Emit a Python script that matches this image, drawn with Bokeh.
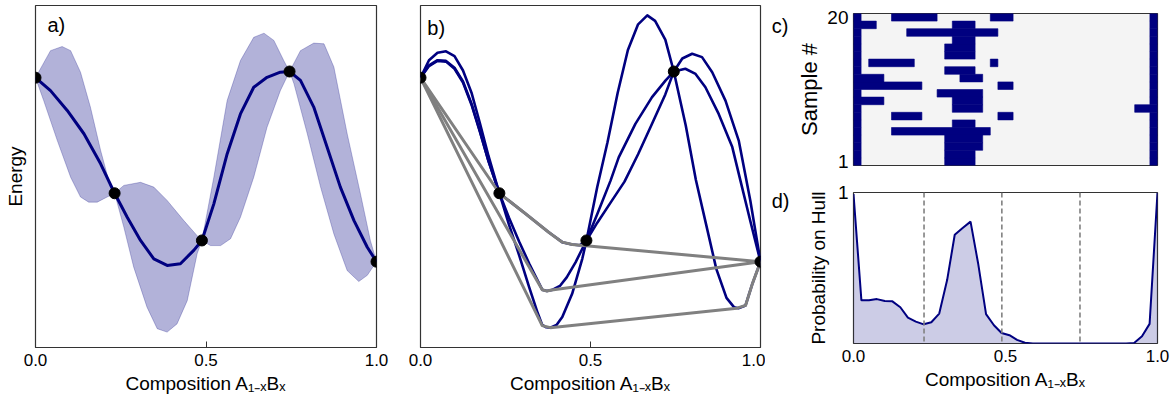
from bokeh.plotting import figure
from bokeh.layouts import row, column
from bokeh.models import Range1d, FixedTicker, Label, Span, LinearAxis
from bokeh.embed import file_html
from bokeh.resources import INLINE

FONT = "Liberation Sans"
NAVY = "#000080"
GREY = "#808080"
XLABEL = "Composition A\u2081\u208b\u2093B\u2093"

# ---------------- data ----------------
# observed (computed) compositions / energies
obs_x = [0.0, 0.232, 0.488, 0.745, 1.0]
obs_e = [0.789, 0.451, 0.313, 0.807, 0.251]

# panel a: GP mean and confidence band
mean_x = [0, 0.044, 0.093, 0.142, 0.191, 0.232, 0.269, 0.308, 0.347, 0.386, 0.425, 0.464, 0.488,
          0.523, 0.562, 0.601, 0.640, 0.679, 0.718, 0.745, 0.777, 0.816, 0.855, 0.894, 0.934, 0.973, 1.0]
mean_e = [0.789, 0.751, 0.693, 0.625, 0.537, 0.451, 0.381, 0.313, 0.259, 0.240, 0.245, 0.284, 0.313,
          0.420, 0.566, 0.683, 0.761, 0.790, 0.805, 0.807, 0.781, 0.703, 0.586, 0.469, 0.371, 0.293, 0.251]

upper_x = [0, 0.044, 0.078, 0.103, 0.132, 0.161, 0.191, 0.220, 0.232, 0.259, 0.308, 0.347, 0.386, 0.435,
           0.474, 0.488, 0.523, 0.562, 0.601, 0.640, 0.670, 0.699, 0.728, 0.745, 0.777, 0.816, 0.846,
           0.875, 0.914, 0.953, 0.982, 1.0]
upper_e = [0.789, 0.868, 0.880, 0.868, 0.805, 0.703, 0.576, 0.469, 0.451, 0.474, 0.483, 0.469, 0.430, 0.371,
           0.327, 0.313, 0.498, 0.722, 0.839, 0.907, 0.919, 0.898, 0.839, 0.807, 0.868, 0.890, 0.888,
           0.820, 0.625, 0.449, 0.313, 0.251]
lower_x = [0, 0.024, 0.064, 0.103, 0.132, 0.156, 0.181, 0.210, 0.232, 0.259, 0.288, 0.327, 0.357, 0.386,
           0.415, 0.445, 0.474, 0.488, 0.513, 0.543, 0.572, 0.601, 0.640, 0.679, 0.718, 0.745, 0.758,
           0.797, 0.836, 0.875, 0.914, 0.948, 0.973, 1.0]
lower_e = [0.789, 0.722, 0.605, 0.498, 0.440, 0.425, 0.425, 0.440, 0.451, 0.352, 0.235, 0.118, 0.055, 0.045,
           0.069, 0.137, 0.274, 0.313, 0.298, 0.298, 0.318, 0.381, 0.498, 0.644, 0.751, 0.807, 0.771,
           0.625, 0.469, 0.332, 0.225, 0.193, 0.211, 0.251]

# panel b: three GP samples and their lower convex hulls
sample1_x = [0, 0.025, 0.05, 0.075, 0.10, 0.125, 0.15, 0.175, 0.20, 0.232, 0.26, 0.29, 0.32, 0.345, 0.358,
             0.37, 0.382, 0.40, 0.417, 0.446, 0.476, 0.488, 0.52, 0.55, 0.58, 0.61, 0.64, 0.667, 0.69,
             0.72, 0.745, 0.78, 0.81, 0.84, 0.87, 0.90, 0.922, 0.935, 0.956, 0.976, 1.0]
sample1_e = [0.789, 0.84, 0.862, 0.866, 0.852, 0.81, 0.745, 0.655, 0.56, 0.451, 0.36, 0.27, 0.175, 0.1, 0.066,
             0.059, 0.058, 0.066, 0.089, 0.157, 0.26, 0.313, 0.47, 0.6, 0.745, 0.87, 0.945, 0.971, 0.955,
             0.9, 0.807, 0.65, 0.49, 0.36, 0.23, 0.145, 0.118, 0.115, 0.123, 0.186, 0.251]
sample2_x = [0, 0.025, 0.05, 0.075, 0.10, 0.125, 0.15, 0.175, 0.20, 0.232, 0.26, 0.29, 0.32, 0.345, 0.358,
             0.372, 0.386, 0.41, 0.43, 0.456, 0.488, 0.52, 0.56, 0.60, 0.64, 0.68, 0.72, 0.745, 0.77, 0.799,
             0.828, 0.858, 0.897, 0.936, 0.97, 1.0]
sample2_e = [0.789, 0.823, 0.838, 0.836, 0.815, 0.775, 0.71, 0.63, 0.545, 0.451, 0.38, 0.31, 0.245, 0.195,
             0.169, 0.165, 0.168, 0.18, 0.205, 0.249, 0.313, 0.365, 0.425, 0.485, 0.565, 0.652, 0.74, 0.807,
             0.845, 0.859, 0.849, 0.805, 0.722, 0.605, 0.43, 0.251]
sample3_x = [0, 0.025, 0.05, 0.075, 0.10, 0.125, 0.15, 0.175, 0.20, 0.232, 0.309, 0.377, 0.417, 0.446,
             0.468, 0.488, 0.52, 0.559, 0.583, 0.632, 0.681, 0.721, 0.745, 0.779, 0.809, 0.838, 0.877,
             0.917, 0.941, 0.97, 1.0]
sample3_e = [0.789, 0.825, 0.84, 0.838, 0.818, 0.778, 0.713, 0.632, 0.545, 0.451, 0.391, 0.337, 0.308,
             0.301, 0.299, 0.313, 0.39, 0.488, 0.556, 0.654, 0.732, 0.781, 0.807, 0.815, 0.800, 0.761,
             0.683, 0.586, 0.488, 0.37, 0.251]

hull1_x = [0, 0.232, 0.309, 0.377, 0.417, 0.446, 1.0]
hull1_e = [0.789, 0.451, 0.391, 0.337, 0.308, 0.301, 0.251]
hull2_x = [0, 0.358, 0.372, 0.386, 1.0]
hull2_e = [0.789, 0.169, 0.165, 0.168, 0.251]
hull3_x = [0, 0.358, 0.382, 0.931, 0.956, 0.976, 1.0]
hull3_e = [0.789, 0.064, 0.058, 0.115, 0.123, 0.186, 0.251]

# panel c: which compositions (40 bins) are on the hull for each of 20 samples
n_bins = 40
sample_runs = [
    [(0, 0), (12, 15), (39, 39)],            # 1
    [(0, 0), (12, 15), (39, 39)],            # 2
    [(0, 0), (12, 16), (39, 39)],            # 3
    [(0, 0), (12, 16), (39, 39)],            # 4
    [(0, 0), (5, 17), (39, 39)],             # 5
    [(0, 0), (13, 15), (39, 39)],            # 6
    [(0, 0), (5, 8), (19, 20), (39, 39)],    # 7
    [(0, 0), (13, 16), (37, 39)],            # 8
    [(0, 3), (13, 16), (39, 39)],            # 9
    [(0, 0), (11, 16), (39, 39)],            # 10
    [(0, 8), (19, 20), (39, 39)],            # 11
    [(0, 3), (14, 16), (39, 39)],            # 12
    [(0, 0), (12, 15), (39, 39)],            # 13
    [(0, 0), (2, 7), (18, 18), (39, 39)],    # 14
    [(0, 0), (12, 15), (39, 39)],            # 15
    [(0, 0), (12, 15), (39, 39)],            # 16
    [(0, 0), (13, 15), (39, 39)],            # 17
    [(0, 0), (7, 18), (39, 39)],             # 18
    [(0, 2), (13, 15), (39, 39)],            # 19
    [(0, 0), (5, 10), (18, 20), (39, 39)],   # 20
]

# panel d: probability on hull
prob_x = [0.0, 0.026, 0.051, 0.077, 0.103, 0.128, 0.154, 0.179, 0.205, 0.231, 0.256, 0.282, 0.308,
          0.333, 0.359, 0.385, 0.41, 0.436, 0.462, 0.487, 0.513, 0.538, 0.564, 0.59, 0.615, 0.641,
          0.667, 0.692, 0.718, 0.744, 0.769, 0.795, 0.821, 0.846, 0.872, 0.897, 0.923, 0.949, 0.974, 1.0]
prob_p = [0.99, 0.286, 0.286, 0.294, 0.281, 0.279, 0.24, 0.171, 0.145, 0.127, 0.141, 0.198, 0.42,
          0.72, 0.765, 0.807, 0.53, 0.195, 0.121, 0.07, 0.055, 0.024, 0.005, 0.0, 0.0, 0.0,
          0.0, 0.0, 0.0, 0.0, 0.0, 0.0, 0.0, 0.0, 0.0, 0.0, 0.004, 0.048, 0.13, 1.0]


# ---------------- helpers ----------------
def style_axis(ax):
    ax.axis_line_color = None
    ax.major_tick_line_color = None
    ax.minor_tick_line_color = None
    ax.major_tick_out = 0
    ax.major_tick_in = 0
    ax.major_label_text_font = FONT
    ax.major_label_text_color = "black"
    ax.axis_label_text_font = FONT
    ax.axis_label_text_font_style = "normal"
    ax.axis_label_text_color = "black"


def base(p):
    p.outline_line_color = "#333333"
    p.outline_line_width = 1.2
    p.outline_line_alpha = 1.0
    p.xgrid.visible = False
    p.ygrid.visible = False
    p.background_fill_color = "white"
    p.border_fill_color = "white"
    for ax in p.axis:
        style_axis(ax)


def comp_xaxis(p):
    ax = p.xaxis[0]
    ax.ticker = FixedTicker(ticks=[0, 0.5, 1])
    ax.major_label_overrides = {0: "0.0", 0.5: "0.5", 1: "1.0"}
    ax.major_label_text_font_size = "17px"
    ax.major_label_standoff = 6
    ax.axis_label = XLABEL
    ax.axis_label_text_font_size = "19px"
    ax.axis_label_standoff = 4


def panel_label(p, text, x, y):
    p.add_layout(Label(x=x, y=y, text=text, text_font=FONT, text_font_size="20px",
                       text_baseline="middle", text_align="left", text_color="black"))


def outer_panel_label(p, text, y, standoff):
    # panel letter drawn as the single tick label of an extra, invisible left axis
    ax = LinearAxis(ticker=FixedTicker(ticks=[y]), major_label_overrides={y: text})
    style_axis(ax)
    ax.major_label_text_font_size = "20px"
    ax.major_label_standoff = standoff
    p.add_layout(ax, "left")


# ---------------- panel a ----------------
pa = figure(frame_width=341, frame_height=342, x_range=Range1d(0, 1), y_range=Range1d(0, 1),
            output_backend="svg", toolbar_location=None,
            min_border_left=35, min_border_right=22, min_border_top=5, min_border_bottom=50)
base(pa)
comp_xaxis(pa)
pa.xaxis.major_tick_in = 6
pa.xaxis.major_tick_line_color = "#333333"
pa.yaxis.ticker = FixedTicker(ticks=[])
pa.yaxis.major_label_standoff = 0
pa.yaxis.axis_label = "Energy"
pa.yaxis.axis_label_text_font_size = "19px"
pa.yaxis.axis_label_standoff = 10

pa.patch(upper_x + lower_x[::-1], upper_e + lower_e[::-1], fill_color=NAVY, fill_alpha=0.3,
         line_color=NAVY, line_alpha=0.25, line_width=1)
pa.line(mean_x, mean_e, line_color=NAVY, line_width=3, line_join="round")
pa.scatter(obs_x, obs_e, size=11, fill_color="black", line_color="black")
panel_label(pa, "a)", 0.035, 0.944)

# ---------------- panel b ----------------
pb = figure(frame_width=340, frame_height=342, x_range=Range1d(0, 1), y_range=Range1d(0, 1),
            output_backend="svg", toolbar_location=None,
            min_border_left=22, min_border_right=5, min_border_top=5, min_border_bottom=50)
base(pb)
comp_xaxis(pb)
pb.xaxis.major_tick_in = 6
pb.xaxis.major_tick_line_color = "#333333"
pb.yaxis.visible = False

for sx, se in [(sample1_x, sample1_e), (sample2_x, sample2_e), (sample3_x, sample3_e)]:
    pb.line(sx, se, line_color=NAVY, line_width=2.6, line_join="round")
for hx, he in [(hull1_x, hull1_e), (hull2_x, hull2_e), (hull3_x, hull3_e)]:
    pb.line(hx, he, line_color=GREY, line_width=3.0, line_join="round")
pb.scatter(obs_x, obs_e, size=11, fill_color="black", line_color="black")
panel_label(pb, "b)", 0.02, 0.933)

# ---------------- panel c ----------------
pc = figure(frame_width=304, frame_height=152, x_range=Range1d(0, n_bins), y_range=Range1d(0.5, 20.5),
            output_backend="svg", toolbar_location=None,
            min_border_left=88, min_border_right=15, min_border_top=13, min_border_bottom=12)
base(pc)
pc.background_fill_color = "#f4f4f4"
pc.xaxis.visible = False
pc.yaxis.ticker = FixedTicker(ticks=[1, 20])
pc.yaxis.major_label_text_font_size = "19px"
pc.yaxis.major_label_standoff = 5
pc.yaxis.axis_label = "Sample #"
pc.yaxis.axis_label_text_font_size = "22px"
pc.yaxis.axis_label_standoff = 2
outer_panel_label(pc, "c)", 18.9, 6)

left, right, bottom, top = [], [], [], []
for i, runs in enumerate(sample_runs):
    for a, b in runs:
        left.append(a)
        right.append(b + 1)
        bottom.append(i + 0.5)
        top.append(i + 1.5)
pc.quad(left=left, right=right, bottom=bottom, top=top, fill_color=NAVY, line_color=NAVY, line_width=0.6)

# ---------------- panel d ----------------
pd_ = figure(frame_width=304, frame_height=151, x_range=Range1d(0, 1), y_range=Range1d(0, 1),
             output_backend="svg", toolbar_location=None,
             min_border_left=87, min_border_right=16, min_border_top=15, min_border_bottom=54)
base(pd_)
comp_xaxis(pd_)
pd_.yaxis.ticker = FixedTicker(ticks=[1])
pd_.yaxis.major_label_text_font_size = "19px"
pd_.yaxis.major_label_standoff = 5
pd_.yaxis.axis_label = "Probability on Hull"
pd_.yaxis.axis_label_text_font_size = "19px"
pd_.yaxis.axis_label_standoff = 6
outer_panel_label(pd_, "d)", 0.947, 15)

pd_.varea(x=prob_x, y1=[0] * len(prob_x), y2=prob_p, fill_color=NAVY, fill_alpha=0.2)
pd_.line(prob_x, prob_p, line_color=NAVY, line_width=2)
for xv in obs_x[1:4]:
    pd_.add_layout(Span(location=xv, dimension="height", line_color=GREY, line_width=1.6,
                        line_dash="5 3"))

layout = row(pa, pb, column(pc, pd_, spacing=0), spacing=0)
open("out.html", "w").write(file_html(layout, INLINE))
